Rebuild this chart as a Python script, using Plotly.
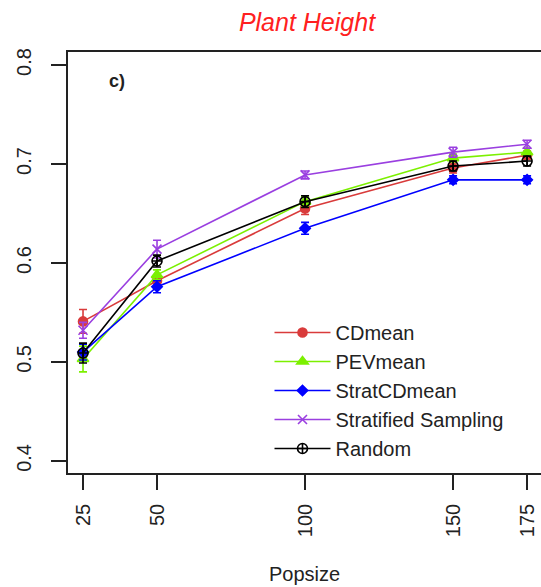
import plotly.graph_objects as go

popsize = [25, 50, 100, 150, 175]

cdmean = [0.541, 0.582, 0.655, 0.696, 0.709]
cdmean_se = [0.012, 0.006, 0.006, 0.005, 0.004]

pevmean = [0.503, 0.588, 0.662, 0.706, 0.712]
pevmean_se = [0.013, 0.005, 0.005, 0.004, 0.004]

stratcdmean = [0.510, 0.576, 0.635, 0.684, 0.684]
stratcdmean_se = [0.008, 0.006, 0.006, 0.004, 0.004]

stratsamp = [0.532, 0.614, 0.689, 0.712, 0.720]
stratsamp_se = [0.008, 0.009, 0.004, 0.005, 0.004]

random_sel = [0.509, 0.602, 0.662, 0.698, 0.703]
random_se = [0.010, 0.006, 0.006, 0.005, 0.005]

y_ticks = [0.4, 0.5, 0.6, 0.7, 0.8]
y_ticktext = ["0.4", "0.5", "0.6", "0.7", "0.8"]
x_ticktext = ["25", "50", "100", "150", "175"]

series = [
    ("CDmean", cdmean, cdmean_se, "#d93b3b", "circle", 9),
    ("PEVmean", pevmean, pevmean_se, "#7cf000", "triangle-up", 10),
    ("StratCDmean", stratcdmean, stratcdmean_se, "#0000ff", "diamond", 8),
    ("Stratified Sampling", stratsamp, stratsamp_se, "#9a3fe0", "x-thin-open", 9),
    ("Random", random_sel, random_se, "#000000", "circle-cross-open", 10),
]

font_family = "Liberation Sans, Arial, sans-serif"

fig = go.Figure()
for i, (name, vals, se, col, sym, sz) in enumerate(series):
    fig.add_trace(go.Scatter(
        x=popsize, y=vals, name=name, mode="lines+markers",
        legendgroup=f"g{i}",
        line=dict(color=col, width=1.6),
        marker=dict(color=col, symbol=sym, size=sz,
                    line=dict(color=col, width=1.6)),
        error_y=dict(type="data", array=se, visible=True, color=col,
                     thickness=1.6, width=4),
    ))

fig.update_layout(
    width=541, height=587,
    margin=dict(l=68, r=0, t=52, b=114, autoexpand=False),
    paper_bgcolor="white", plot_bgcolor="white",
    font=dict(family=font_family, size=20, color="#222222"),
    title=dict(text="<i>Plant Height</i>", x=307 / 541, xanchor="center",
               y=1 - 22 / 587, yanchor="middle", automargin=False,
               font=dict(size=25, color="#ff2020", family=font_family)),
    showlegend=True,
    legend=dict(x=0.426, y=0.38, xanchor="left", yanchor="top",
                bgcolor="rgba(0,0,0,0)", borderwidth=0,
                font=dict(size=20, color="#222222", family=font_family),
                tracegroupgap=0, itemwidth=56),
    xaxis=dict(range=[19.93, 179.7], tickvals=popsize, ticktext=x_ticktext,
               tickangle=-90, ticks="outside", ticklen=15, tickwidth=1.5,
               tickcolor="#222222", showline=True, linecolor="#222222",
               linewidth=1.5, mirror=True, showgrid=False, zeroline=False,
               ticklabelstandoff=6, automargin=False,
               title=dict(text="Popsize", font=dict(size=20), standoff=31)),
    yaxis=dict(range=[0.3878, 0.8132], tickvals=y_ticks, ticktext=y_ticktext,
               tickangle=-90, ticks="outside", ticklen=15, tickwidth=1.5,
               tickcolor="#222222", showline=True, linecolor="#222222",
               linewidth=1.5, mirror=False, showgrid=False, zeroline=False,
               ticklabelstandoff=12, automargin=False),
    annotations=[dict(text="<b>c)</b>", x=36.5, y=0.784, xref="x", yref="y",
                      showarrow=False, font=dict(size=18, color="#222222"))],
)

fig.write_html("out.html",
               config={"displayModeBar": False},
               post_script="document.body.style.margin='0';")
